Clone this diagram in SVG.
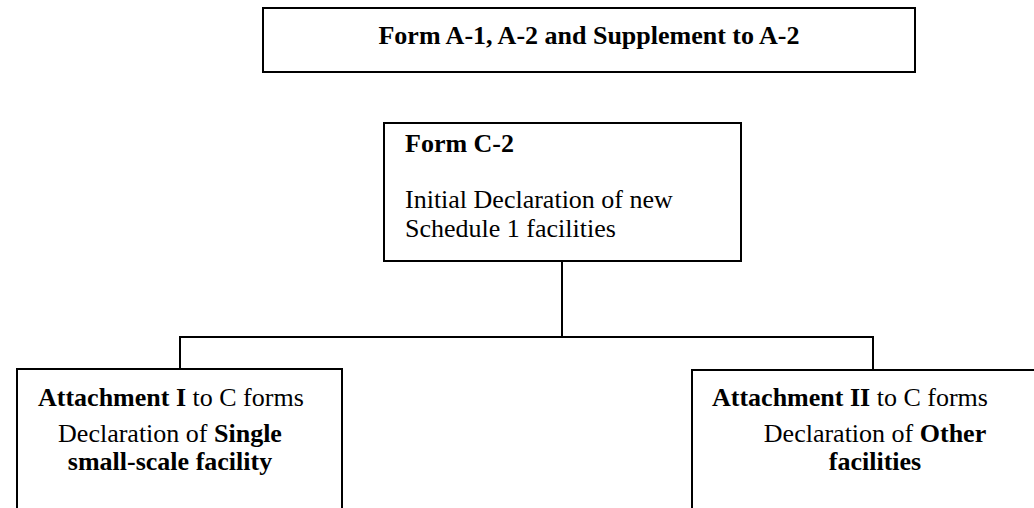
<svg xmlns="http://www.w3.org/2000/svg" width="1034" height="508" viewBox="0 0 1034 508">
<style>
.box{fill:#fff;stroke:#000;stroke-width:2}
.ln{stroke:#000;stroke-width:2;fill:none}
text{font-family:"Liberation Serif","Times New Roman",serif;font-size:26px;fill:#000}
.b{font-weight:bold}
</style>
<rect width="1034" height="508" fill="#fff"/>
<g id="connectors">
<line class="ln" x1="562" y1="261" x2="562" y2="337"/>
<line class="ln" x1="179" y1="337" x2="874" y2="337"/>
<line class="ln" x1="180" y1="337" x2="180" y2="369"/>
<line class="ln" x1="873" y1="337" x2="873" y2="370"/>
</g>
<g id="top">
<rect class="box" x="263" y="8" width="652" height="64"/>
<text class="b" x="589" y="44" text-anchor="middle">Form A-1, A-2 and Supplement to A-2</text>
</g>
<g id="c2">
<rect class="box" x="384" y="123" width="357" height="138"/>
<text class="b" x="405" y="152">Form C-2</text>
<text x="405" y="208">Initial Declaration of new</text>
<text x="405" y="237">Schedule 1 facilities</text>
</g>
<g id="att1">
<rect class="box" x="17" y="369" width="325" height="160"/>
<text x="38" y="406"><tspan class="b">Attachment I</tspan> to C forms</text>
<text x="170" y="442" text-anchor="middle">Declaration of <tspan class="b">Single</tspan></text>
<text class="b" x="170" y="470" text-anchor="middle">small-scale facility</text>
</g>
<g id="att2">
<rect class="box" x="692" y="370" width="366" height="160"/>
<text x="712" y="406"><tspan class="b">Attachment II</tspan> to C forms</text>
<text x="875" y="442" text-anchor="middle">Declaration of <tspan class="b">Other</tspan></text>
<text class="b" x="875" y="470" text-anchor="middle">facilities</text>
</g>
</svg>
